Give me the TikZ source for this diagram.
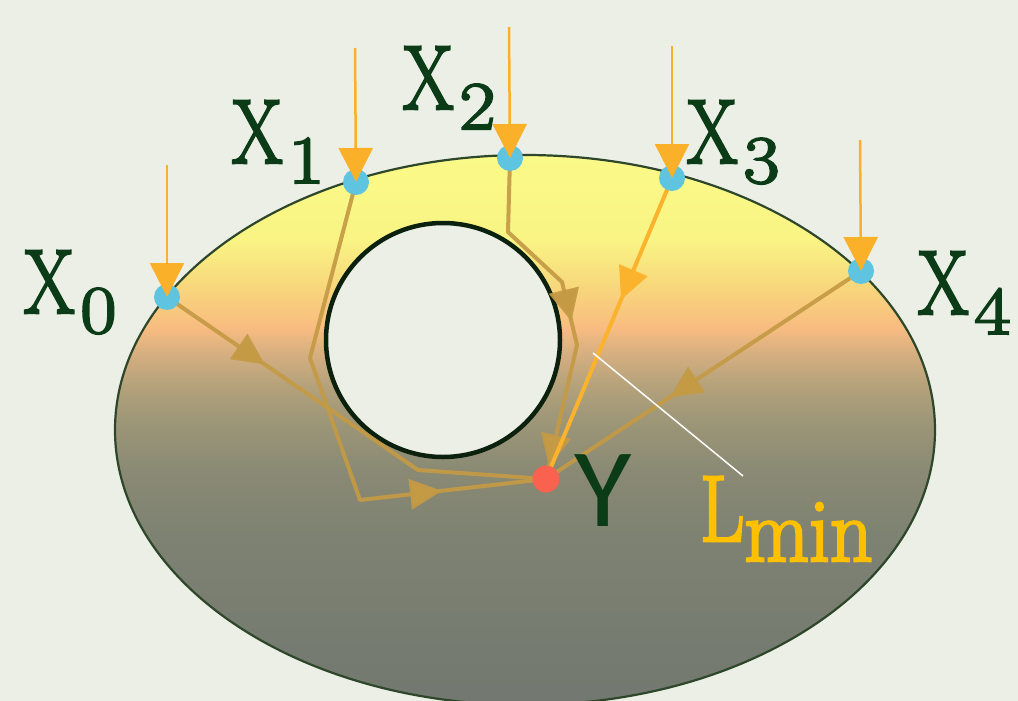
\documentclass[tikz,border=0pt]{standalone}
\usepackage{fontspec}
\usepackage{graphicx}
\usetikzlibrary{arrows.meta,decorations.markings}
\newfontfamily\yfont{Carlito}
\newfontfamily\heavyserif[FakeBold=3]{Latin Modern Roman}
\definecolor{bg}{HTML}{ECEFE6}
\definecolor{edgec}{HTML}{2E472A}
\definecolor{holeedge}{HTML}{0C200E}
\definecolor{txt}{HTML}{0B3B17}
\definecolor{goldc}{HTML}{FFC000}
\definecolor{inarrc}{HTML}{FBB02A}
\definecolor{pathc}{HTML}{C49A45}
\definecolor{brightc}{HTML}{FBB22C}
\definecolor{dotc}{HTML}{5EC4E0}
\definecolor{redc}{HTML}{F9624E}
\definecolor{ga}{HTML}{FAFA88}
\definecolor{gb}{HTML}{F9F484}
\definecolor{gc}{HTML}{F8D87C}
\definecolor{gd}{HTML}{F8BC80}
\definecolor{ge}{HTML}{D4AE80}
\definecolor{gf}{HTML}{B5A27B}
\definecolor{gg}{HTML}{A09878}
\definecolor{gh}{HTML}{8A8A74}
\definecolor{gi}{HTML}{7E8272}
\definecolor{gj}{HTML}{727870}
% y -> s = 75 - 50*(y-155)/550
% gb 240, gc 285, gd 328, ge 355, gf 385, gg 415, gh 470, gi 535
\pgfdeclareverticalshading{ringshade}{100bp}{color(0bp)=(gj); color(25bp)=(gj); color(40.5bp)=(gi); color(46.4bp)=(gh); color(51.4bp)=(gg); color(54.1bp)=(gf); color(56.8bp)=(ge); color(59.3bp)=(gd); color(63.2bp)=(gc); color(67.3bp)=(gb); color(75bp)=(ga); color(100bp)=(ga)}
\pgfdeclarelayer{back}
\pgfdeclarelayer{mid}
\pgfsetlayers{back,mid,main}
\newcommand{\xlab}[1]{{\heavyserif\fontsize{91}{91}\selectfont\scalebox{0.8}[1]{X}}\hspace{6pt}\raisebox{-20pt}{\heavyserif\fontsize{68}{68}\selectfont\scalebox{1.15}[1]{#1}}}
\begin{document}
\begin{tikzpicture}[x=1pt,y=-1pt,
  dot/.style={circle, fill=dotc, minimum size=26pt, inner sep=0pt},
  ydot/.style={circle, fill=redc, minimum size=27pt, inner sep=0pt},
  inarr/.style={draw=inarrc, line width=2.5pt, -{Triangle[length=34pt,width=34pt]}},
  pth/.style={draw=pathc, line width=4pt, line join=round, draw opacity=0.92},
  bright/.style={draw=brightc, line width=4pt, line join=round},
  arrat/.style={postaction={decorate}, decoration={markings, mark=at position #1 with {\arrow{Triangle[length=32pt,width=30pt]}}}},
  lab/.style={anchor=base west, inner sep=0pt, outer sep=0pt, text=txt},
]
\useasboundingbox (0,0) rectangle (1018,701);
\begin{pgfonlayer}{back}
\fill[bg] (0,0) rectangle (1018,701);
\shadedraw[shading=ringshade, draw=edgec, line width=2.2pt] (525,430) ellipse [x radius=410, y radius=275];
\draw[draw=holeedge, line width=4.5pt, fill=bg] (443,340) circle [radius=117];
\end{pgfonlayer}
% dots
\node[dot] (x0) at (167,297) {};
\node[dot] (x1) at (356,182) {};
\node[dot] (x2) at (510,158) {};
\node[dot] (x3) at (672,178) {};
\node[dot] (x4) at (861,271) {};
\node[ydot] (y) at (546,479) {};
% bend points
\coordinate (a1) at (418,470);
\coordinate (b1) at (310,358);
\coordinate (b2) at (360,500);
\coordinate (c1) at (508,232);
\coordinate (c2) at (562,282);
\coordinate (c3) at (577,345);
\begin{pgfonlayer}{mid}
\path[pth, arrat=119pt] (x0.center) -- (a1) -- (y.center);
\path[pth, arrat=415pt] (x1.center) -- (b1) -- (b2) -- (y.center);
\path[pth, postaction={decorate}, decoration={markings,
   mark=at position 188pt with {\arrow{Triangle[length=32pt,width=30pt]}},
   mark=at position 337pt with {\arrow{Triangle[length=32pt,width=30pt]}}}]
   (x2.center) -- (c1) -- (c2) -- (c3) -- (y.center);
\path[pth, arrat=229pt] (x4.center) -- (y.center);
\path[bright, postaction={decorate}, decoration={markings,
   mark=at position 132pt with {\arrow{Triangle[length=32pt,width=30pt]}}}]
   (x3.center) -- (y.center);
\end{pgfonlayer}
% incoming arrows
\coordinate (s0) at (167,165);
\coordinate (s1) at (355,48);
\coordinate (s2) at (509,27);
\coordinate (s3) at (672,46);
\coordinate (s4) at (860,140);
\draw[inarr] (s0) -- (x0.center);
\draw[inarr] (s1) -- (x1.center);
\draw[inarr] (s2) -- (x2.center);
\draw[inarr] (s3) -- (x3.center);
\draw[inarr] (s4) -- (x4.center);
% labels
\node[lab] (l0) at (24,313) {\xlab{0}};
\node[lab] (l1) at (232,163) {\xlab{1}};
\node[lab] (l2) at (403,109) {\xlab{2}};
\node[lab] (l3) at (687,163) {\xlab{3}};
\node[lab] (l4) at (918,314) {\xlab{4}};
\node[lab] (ly) at (574,526) {\yfont\fontsize{112}{112}\selectfont\scalebox{1.05}[1]{Y}};
\node[lab, text=goldc] (lm) at (700,541) {{\heavyserif\fontsize{94}{94}\selectfont\scalebox{0.82}[1]{L}}\raisebox{-20pt}{\heavyserif\fontsize{90}{90}\selectfont\scalebox{0.93}[1]{min}}};
% white pointer line
\coordinate (wp) at (593,353);
\coordinate (wq) at (743,476);
\draw[white, line width=1.5pt] (wp) -- (wq);
\end{tikzpicture}
\end{document}
